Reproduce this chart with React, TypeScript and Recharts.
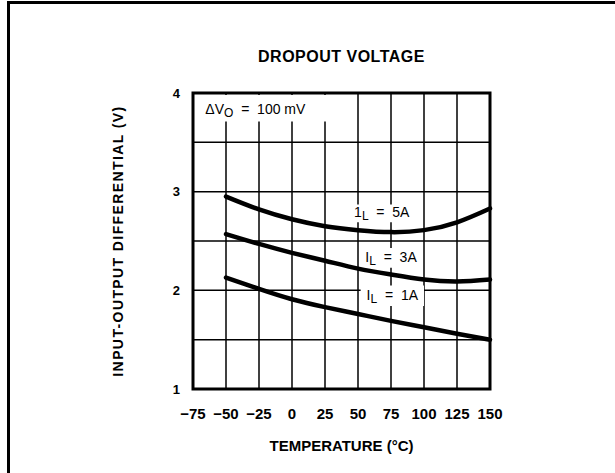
import React from 'react';
import { LineChart, Line, XAxis, YAxis, CartesianGrid, ReferenceArea } from 'recharts';

const temperatures = [-50, -25, 0, 25, 50, 75, 100, 125, 150];
const load5A = [2.95, 2.82, 2.72, 2.65, 2.61, 2.59, 2.61, 2.69, 2.83];
const load3A = [2.57, 2.47, 2.38, 2.3, 2.22, 2.16, 2.11, 2.09, 2.11];
const load1A = [2.13, 2.015, 1.91, 1.83, 1.76, 1.69, 1.625, 1.56, 1.5];

const xTicks = [-75, -50, -25, 0, 25, 50, 75, 100, 125, 150];
const yTicks = [1, 1.5, 2, 2.5, 3, 3.5, 4];

const data = temperatures.map((t, i) => ({ t, a5: load5A[i], a3: load3A[i], a1: load1A[i] }));

const FONT = '"Liberation Sans", Arial, Helvetica, sans-serif';

const fmtX = (v: number) => (v < 0 ? '\u2212' + Math.abs(v) : String(v));
const fmtY = (v: number) => (Number.isInteger(v) ? String(v) : '');

const CurveLabel = (props: any) => {
  const { viewBox, first, rest } = props;
  const cx = viewBox.x + viewBox.width / 2;
  const cy = viewBox.y + viewBox.height / 2 - 1;
  return (
    <text x={cx} y={cy} textAnchor="middle" dominantBaseline="central" fontFamily={FONT} fontSize={14} fill="#000">
      <tspan>{first}</tspan>
      <tspan dy={4} fontSize={12}>L</tspan>
      <tspan dy={-4}>{rest}</tspan>
    </text>
  );
};

const DeltaLabel = (props: any) => {
  const { viewBox } = props;
  const x = viewBox.x + 11;
  const cy = viewBox.y + viewBox.height / 2 + 1;
  return (
    <text x={x} y={cy} textAnchor="start" dominantBaseline="central" fontFamily={FONT} fontSize={14} fill="#000">
      <tspan>ΔV</tspan>
      <tspan dy={4} fontSize={12}>O</tspan>
      <tspan dy={-4}>{'\u00a0\u00a0=\u00a0\u00a0100\u00a0mV'}</tspan>
    </text>
  );
};

const YTitle = (props: any) => {
  const { viewBox } = props;
  const x = viewBox.x - 15;
  const y = viewBox.y + viewBox.height / 2;
  return (
    <text
      x={x}
      y={y}
      transform={`rotate(-90, ${x}, ${y})`}
      textAnchor="middle"
      dominantBaseline="central"
      fontFamily={FONT}
      fontWeight="bold"
      fontSize={14}
      letterSpacing={1.4}
      fill="#000"
    >
      INPUT-OUTPUT DIFFERENTIAL (V)
    </text>
  );
};

const XTitle = (props: any) => {
  const { viewBox } = props;
  const x = viewBox.x + viewBox.width / 2;
  const y = viewBox.y + 56;
  return (
    <text x={x} y={y} textAnchor="middle" dominantBaseline="central" fontFamily={FONT} fontWeight="bold" fontSize={15} fill="#000">
      TEMPERATURE (°C)
    </text>
  );
};

export default function App() {
  return (
    <div style={{ position: 'absolute', left: 0, top: 0, width: 615, height: 473, background: '#fff' }}>
      <div
        style={{
          position: 'absolute',
          left: 7,
          top: 1,
          width: 608,
          height: 472,
          borderLeft: '3px solid #000',
          borderTop: '3px solid #000',
          boxSizing: 'border-box',
        }}
      />
      <div
        style={{
          position: 'absolute',
          left: 193,
          width: 297,
          top: 47,
          textAlign: 'center',
          fontFamily: FONT,
          fontWeight: 'bold',
          fontSize: 16,
          letterSpacing: 0.5,
          lineHeight: '20px',
        }}
      >
        DROPOUT VOLTAGE
      </div>
      <div style={{ position: 'absolute', left: 0, top: 0 }}>
        <LineChart width={615} height={473} data={data} margin={{ top: 93, right: 125, bottom: 54, left: 133 }}>
          <CartesianGrid stroke="#000" strokeWidth={1.5} />
          <XAxis
            dataKey="t"
            type="number"
            domain={[-75, 150]}
            ticks={xTicks}
            tickFormatter={fmtX}
            axisLine={false}
            tickLine={false}
            tickSize={6}
            tickMargin={13}
            height={30}
            tick={{ fill: '#000', fontFamily: FONT, fontWeight: 'bold', fontSize: 15 }}
            label={<XTitle />}
          />
          <YAxis
            type="number"
            domain={[1, 4]}
            ticks={yTicks}
            tickFormatter={fmtY}
            axisLine={false}
            tickLine={false}
            tickSize={6}
            tickMargin={7}
            width={60}
            interval={0}
            tick={{ fill: '#000', fontFamily: FONT, fontWeight: 'bold', fontSize: 13 }}
            label={<YTitle />}
          />
          <ReferenceArea x1={-74} x2={36} y1={3.71} y2={3.98} fill="#fff" fillOpacity={1} stroke="none" label={<DeltaLabel />} />
          <ReferenceArea x1={40} x2={96} y1={2.69} y2={2.87} fill="#fff" fillOpacity={1} stroke="none" label={<CurveLabel first="1" rest={'\u00a0\u00a0=\u00a0\u00a05A'} />} />
          <ReferenceArea x1={51} x2={99} y1={2.23} y2={2.43} fill="#fff" fillOpacity={1} stroke="none" label={<CurveLabel first="I" rest={'\u00a0\u00a0=\u00a0\u00a03A'} />} />
          <ReferenceArea x1={52} x2={100} y1={1.84} y2={2.05} fill="#fff" fillOpacity={1} stroke="none" label={<CurveLabel first="I" rest={'\u00a0\u00a0=\u00a0\u00a01A'} />} />
          <ReferenceArea x1={-75} x2={150} y1={1} y2={4} fill="none" stroke="#000" strokeWidth={3} />
          <Line dataKey="a5" type="natural" stroke="#000" strokeWidth={4.5} dot={false} strokeLinecap="round" isAnimationActive={false} />
          <Line dataKey="a3" type="natural" stroke="#000" strokeWidth={4.5} dot={false} strokeLinecap="round" isAnimationActive={false} />
          <Line dataKey="a1" type="natural" stroke="#000" strokeWidth={4.5} dot={false} strokeLinecap="round" isAnimationActive={false} />
        </LineChart>
      </div>
    </div>
  );
}
